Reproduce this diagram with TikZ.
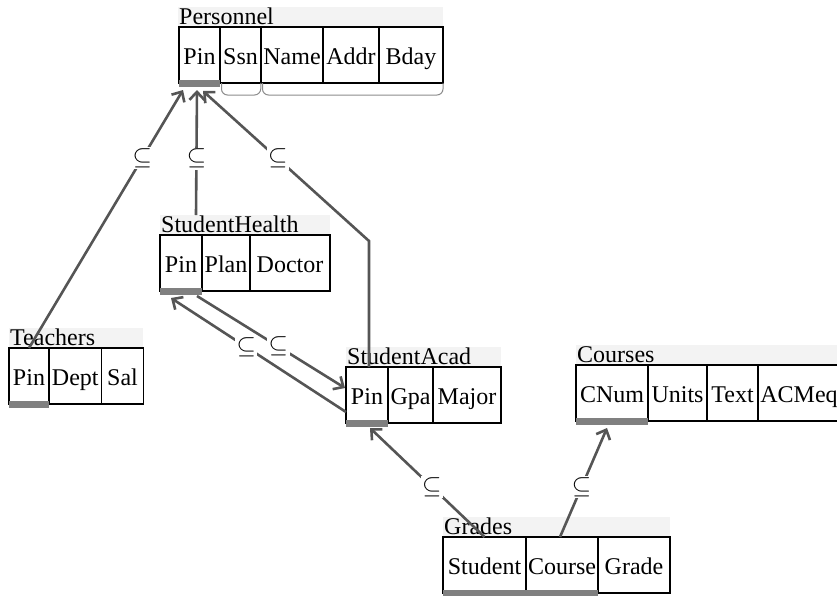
\documentclass[tikz,border=0pt]{standalone}
\usepackage{fontspec}
\setmainfont{Liberation Serif}
\usetikzlibrary{arrows.meta,calc}
\definecolor{linegray}{HTML}{555555}
\definecolor{keygray}{HTML}{808080}
\definecolor{titlebg}{HTML}{F3F3F3}
\definecolor{bracegray}{HTML}{8C8C8C}
\begin{document}
\begin{tikzpicture}[x=1pt,y=-1pt,
  every node/.style={font=\fontsize{24}{28}\selectfont},
  cell/.style={draw=black, fill=white, line width=1.3pt, minimum height=56pt, inner sep=0pt, outer sep=0pt, anchor=north west, text height=20pt, text depth=2pt},
  keybar/.style={fill=keygray, inner sep=0pt, outer sep=0pt, minimum height=7pt, anchor=north west},
  titletext/.style={inner sep=0pt, anchor=base west},
  link/.style={draw=linegray, line width=2.6pt, -{Straight Barb[length=8pt,width=15pt]}},
  sublabel/.style={fill=white, inner sep=1.5pt, font=\fontsize{23}{26}\selectfont},
  brace/.style={draw=bracegray, line width=1pt, rounded corners=6pt}
]
\path[use as bounding box] (0,0) rectangle (837,595);
\clip (0,0) rectangle (837,595);

% ---------- Personnel ----------
\fill[titlebg] (178,7) rectangle (443,27);
\node[titletext] (pers-title) at (179,24) {Personnel};
\node[cell, minimum width=41pt] (pers-pin) at (179,27) {Pin};
\node[cell, minimum width=41pt] (pers-ssn) at (pers-pin.north east) {Ssn};
\node[cell, minimum width=62pt] (pers-name) at (pers-ssn.north east) {Name};
\node[cell, minimum width=56pt] (pers-addr) at (pers-name.north east) {Addr};
\node[cell, minimum width=64pt] (pers-bday) at (pers-addr.north east) {Bday};
\node[keybar, minimum width=41pt] (pers-key) at ($(pers-pin.south west)+(0,-3)$) {};
\draw[brace] ($(pers-ssn.south west)+(1.5,0)$) -- ++(0,12) -- ($(pers-ssn.south east)+(-0.5,12)$) -- (pers-ssn.south east);
\draw[brace] ($(pers-name.south west)+(1.5,0)$) -- ++(0,12) -- ($(pers-bday.south east)+(0,12)$) -- (pers-bday.south east);

% ---------- StudentHealth ----------
\fill[titlebg] (160,215) rectangle (330,235);
\node[titletext] (sh-title) at (161,232) {StudentHealth};
\node[cell, minimum width=42pt] (sh-pin) at (160,235) {Pin};
\node[cell, minimum width=48pt] (sh-plan) at (sh-pin.north east) {Plan};
\node[cell, minimum width=80pt] (sh-doc) at (sh-plan.north east) {Doctor};
\node[keybar, minimum width=42pt] (sh-key) at ($(sh-pin.south west)+(0,-3)$) {};

% ---------- Teachers ----------
\fill[titlebg] (9,328) rectangle (143,348);
\node[titletext] (tea-title) at (10,345) {Teachers};
\node[cell, minimum width=40pt] (tea-pin) at (9,348) {Pin};
\node[cell, minimum width=52.5pt] (tea-dept) at (tea-pin.north east) {Dept};
\node[cell, minimum width=42pt] (tea-sal) at (tea-dept.north east) {Sal};
\node[keybar, minimum width=40pt] (tea-key) at ($(tea-pin.south west)+(0,-3)$) {};

% ---------- StudentAcad ----------
\fill[titlebg] (346,347) rectangle (501,367);
\node[titletext] (sa-title) at (347,364) {StudentAcad};
\node[cell, minimum width=42pt] (sa-pin) at (346,367) {Pin};
\node[cell, minimum width=45pt] (sa-gpa) at (sa-pin.north east) {Gpa};
\node[cell, minimum width=68pt] (sa-major) at (sa-gpa.north east) {Major};
\node[keybar, minimum width=42pt] (sa-key) at ($(sa-pin.south west)+(0,-3)$) {};

% ---------- Courses ----------
\fill[titlebg] (576,345) rectangle (837,365);
\node[titletext] (co-title) at (577,362) {Courses};
\node[cell, minimum width=72pt] (co-num) at (576,365) {CNum};
\node[cell, minimum width=59pt] (co-units) at (co-num.north east) {Units};
\node[cell, minimum width=51pt] (co-text) at (co-units.north east) {Text};
\node[cell, minimum width=82pt] (co-acm) at (co-text.north east) {ACMeq};
\node[keybar, minimum width=72pt] (co-key) at ($(co-num.south west)+(0,-3)$) {};

% ---------- Grades ----------
\fill[titlebg] (443,517) rectangle (670,537);
\node[titletext] (gr-title) at (444,534) {Grades};
\node[cell, minimum width=83pt] (gr-stu) at (443,537) {Student};
\node[cell, minimum width=72pt] (gr-course) at (gr-stu.north east) {Course};
\node[cell, minimum width=72pt] (gr-grade) at (gr-course.north east) {Grade};
\node[keybar, minimum width=155pt] (gr-key) at ($(gr-stu.south west)+(0,-3)$) {};

% ---------- connectors ----------
\draw[link] (tea-pin.north) -- node[pos=0.735, sublabel] (l1) {$\subseteq$} ($(pers-key.south west)+(4,3)$);
\draw[link] ($(sh-pin.north east)+(-6,-20)$) -- node[pos=0.45, sublabel] (l2) {$\subseteq$} ($(pers-key.south west)+(18,3)$);
\coordinate (sa-bend) at ($(sa-pin.north)+(2,-126)$);
\draw[link] ($(sa-pin.north)+(2,0)$) -- (sa-bend) -- node[pos=0.55, sublabel] (l3) {$\subseteq$} ($(pers-key.south west)+(24,4)$);
\draw[link] ($(sa-pin.west)+(0,17)$) -- node[pos=0.57, sublabel] (l4) {$\subseteq$} ($(sh-key.south west)+(11,3)$);
\draw[link] ($(sh-key.south east)+(-5,1)$) -- node[pos=0.55, sublabel] (l5) {$\subseteq$} ($(sa-pin.west)+(-1,-7)$);
\draw[link] (gr-stu.north) -- node[pos=0.46, sublabel] (l6) {$\subseteq$} ($(sa-key.south)+(3,1)$);
\draw[link] ($(gr-course.north)+(-2,0)$) -- node[pos=0.46, sublabel] (l7) {$\subseteq$} ($(co-key.south)+(-5,3)$);
\end{tikzpicture}
\end{document}
